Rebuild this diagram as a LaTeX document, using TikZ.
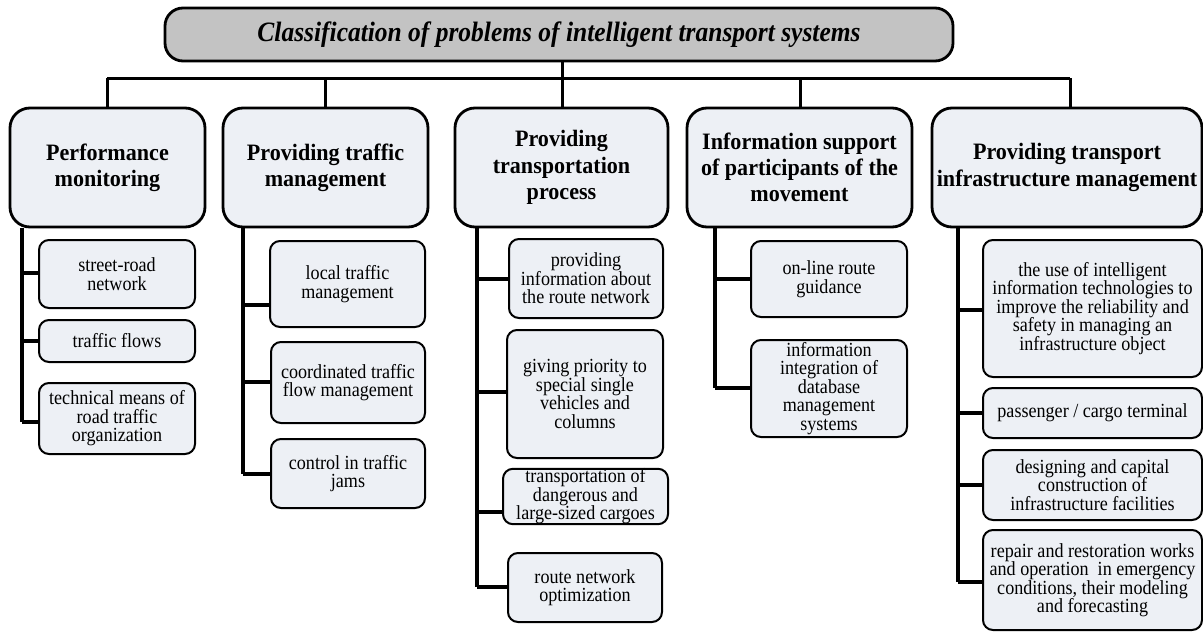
\documentclass[tikz,border=0pt]{standalone}
\usepackage{fontspec}
\setmainfont{Liberation Serif}
\newfontfamily\subf{Liberation Serif}[FakeStretch=0.905]
\newfontfamily\mainf{Liberation Serif}[FakeStretch=0.94]
\newfontfamily\titlef{Liberation Serif}[FakeStretch=0.91]
\usetikzlibrary{calc}
\definecolor{boxfill}{HTML}{EDF0F5}
\definecolor{titlefill}{HTML}{C3C3C3}
\tikzset{
  titlebox/.style={draw, line width=2.8pt, rounded corners=18pt, fill=titlefill, inner sep=0pt,
    font=\titlef\fontsize{28}{30}\selectfont\bfseries\itshape},
  mainbox/.style={draw, line width=2.8pt, rounded corners=20pt, fill=boxfill, inner sep=0pt, align=center,
    font=\mainf\fontsize{23.5}{26.2}\selectfont\bfseries},
  subbox/.style={draw, line width=2pt, rounded corners=10pt, fill=boxfill, inner sep=0pt, align=center,
    font=\subf\fontsize{20}{18.5}\selectfont},
  conn/.style={line width=3.4pt},
  bus/.style={line width=3pt}
}
\begin{document}
\begin{tikzpicture}[x=1pt,y=-1pt]
\useasboundingbox (0,0) rectangle (1203,632);
% title
\node[titlebox, minimum width=788pt, minimum height=53pt] (title) at (559,34.5) {Classification of problems of intelligent transport systems};
% main boxes
\node[mainbox, minimum width=195pt, minimum height=119pt] (pm) at (107.5,167.5) {Performance\\monitoring};
\node[mainbox, minimum width=205pt, minimum height=119pt] (tm) at (325.5,167.5) {Providing traffic\\management};
\node[mainbox, minimum width=213pt, minimum height=119pt] (tp) at (561.5,167.5) {Providing\\transportation\\process};
\node[mainbox, minimum width=225pt, minimum height=119pt] (is) at (799.5,167.5) {Information support\\of participants of the\\movement};
\node[mainbox, minimum width=270pt, minimum height=119pt] (im) at (1067,167.5) {Providing transport\\infrastructure management};
% bus
\coordinate (busL) at (107,78);
\coordinate (busR) at (1070,78);
\draw[bus] (title.south -| 562,0) -- (562,78);
\draw[bus] (busL) -- (busR);
\draw[bus] (busL) -- (pm.north -| busL);
\draw[bus] (325,78) -- (tm.north -| 325,0);
\draw[bus] (562,78) -- (tp.north -| 562,0);
\draw[bus] (800,78) -- (is.north -| 800,0);
\draw[bus] (busR) -- (im.north -| busR);
% sub boxes
\node[subbox, minimum width=156pt, minimum height=68pt] (a1) at (117,274) {street-road\\network};
\node[subbox, minimum width=156pt, minimum height=42pt] (a2) at (117,341) {traffic flows};
\node[subbox, minimum width=156pt, minimum height=71pt] (a3) at (117,418.5) {technical means of\\road traffic\\organization};
\node[subbox, minimum width=155pt, minimum height=86pt] (b1) at (347.5,284) {local traffic\\management};
\node[subbox, minimum width=154pt, minimum height=81pt] (b2) at (348,382.5) {coordinated traffic\\flow management};
\node[subbox, minimum width=154pt, minimum height=69pt] (b3) at (348,473.5) {control in traffic\\jams};
\node[subbox, minimum width=154pt, minimum height=79pt] (c1) at (586,278.5) {providing\\information about\\the route network};
\node[subbox, minimum width=156pt, minimum height=128pt] (c2) at (585,394) {giving priority to\\special single\\vehicles and\\columns};
\node[subbox, minimum width=165pt, minimum height=55pt] (c3) at (585.5,496.5) {transportation of\\dangerous and\\large-sized cargoes};
\node[subbox, minimum width=154pt, minimum height=69pt] (c4) at (585,587.5) {route network\\optimization};
\node[subbox, minimum width=156pt, minimum height=76pt] (d1) at (829,279) {on-line route\\guidance};
\node[subbox, minimum width=156pt, minimum height=97pt] (d2) at (829,388.5) {information\\integration of\\database\\management\\systems};
\node[subbox, minimum width=219pt, minimum height=137pt] (s1) at (1092.5,308.5) {the use of intelligent\\information technologies to\\improve the reliability and\\safety in managing an\\infrastructure object};
\node[subbox, minimum width=219pt, minimum height=50pt] (s2) at (1092.5,413) {passenger / cargo terminal};
\node[subbox, minimum width=219pt, minimum height=70pt] (s3) at (1092.5,485) {designing and capital\\construction of\\infrastructure facilities};
\node[subbox, minimum width=219pt, minimum height=100pt] (s4) at (1092.5,580) {repair and restoration works\\and operation\ \ in emergency\\conditions, their modeling\\and forecasting};
% trunks
\coordinate (tA) at (22,0);
\coordinate (tB) at (243,0);
\coordinate (tC) at (477,0);
\coordinate (tD) at (715,0);
\coordinate (tE) at (958,0);
\draw[conn] (pm.south -| tA) -- (tA |- 0,422);
\draw[conn] (tA |- 0,273) -- (a1.west |- 0,273);
\draw[conn] (tA |- 0,341) -- (a2.west |- 0,341);
\draw[conn] (tA |- 0,422) -- (a3.west |- 0,422);
\draw[conn] (tm.south -| tB) -- (tB |- 0,474);
\draw[conn] (tB |- 0,305) -- (b1.west |- 0,305);
\draw[conn] (tB |- 0,382) -- (b2.west |- 0,382);
\draw[conn] (tB |- 0,474) -- (b3.west |- 0,474);
\draw[conn] (tp.south -| tC) -- (tC |- 0,587);
\draw[conn] (tC |- 0,279) -- (c1.west |- 0,279);
\draw[conn] (tC |- 0,392) -- (c2.west |- 0,392);
\draw[conn] (tC |- 0,512) -- (c3.west |- 0,512);
\draw[conn] (tC |- 0,587) -- (c4.west |- 0,587);
\draw[conn] (is.south -| tD) -- (tD |- 0,388);
\draw[conn] (tD |- 0,279) -- (d1.west |- 0,279);
\draw[conn] (tD |- 0,388) -- (d2.west |- 0,388);
\draw[conn] (im.south -| tE) -- (tE |- 0,582);
\draw[conn] (tE |- 0,310) -- (s1.west |- 0,310);
\draw[conn] (tE |- 0,413) -- (s2.west |- 0,413);
\draw[conn] (tE |- 0,485) -- (s3.west |- 0,485);
\draw[conn] (tE |- 0,582) -- (s4.west |- 0,582);
\end{tikzpicture}
\end{document}
